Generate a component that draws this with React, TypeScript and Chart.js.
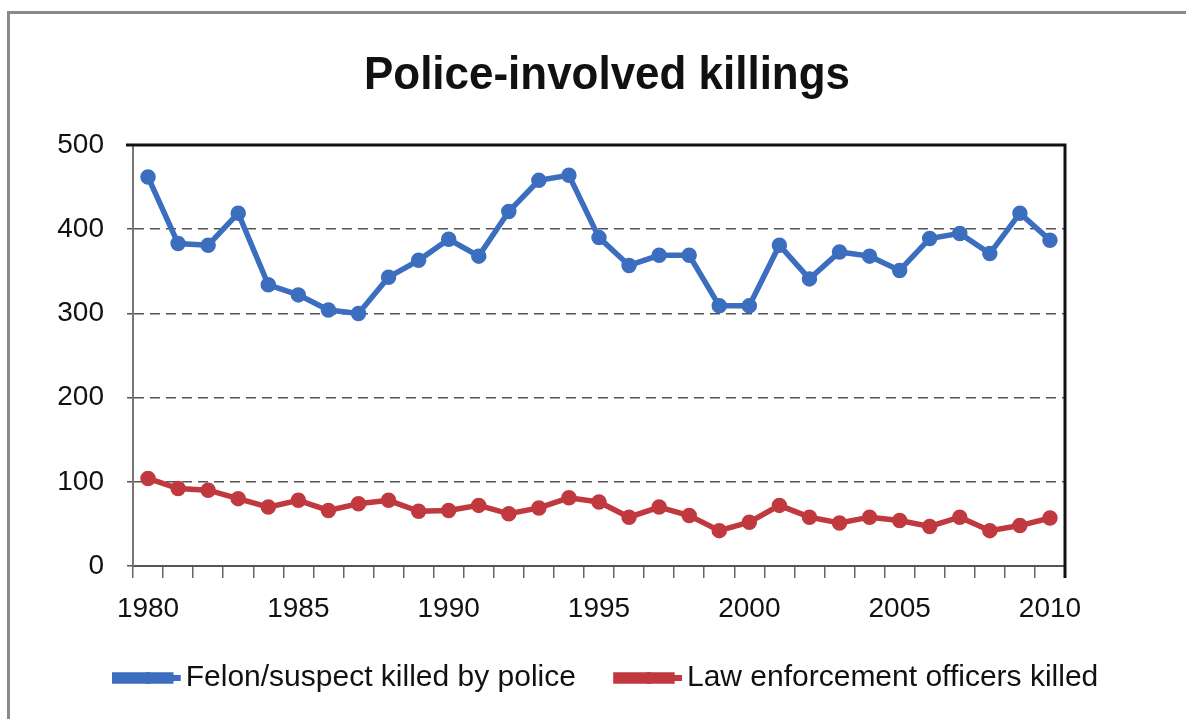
import React, { useEffect, useRef } from "react";
import { Chart, registerables } from "chart.js";

Chart.register(...registerables);

const years = [
  "1980", "1981", "1982", "1983", "1984", "1985", "1986", "1987", "1988", "1989",
  "1990", "1991", "1992", "1993", "1994", "1995", "1996", "1997", "1998", "1999",
  "2000", "2001", "2002", "2003", "2004", "2005", "2006", "2007", "2008", "2009", "2010",
];

const felonKilled = [
  462, 383, 381, 419, 334, 322, 304, 300, 343, 363,
  388, 368, 421, 458, 464, 390, 357, 369, 369, 309,
  309, 381, 341, 373, 368, 351, 389, 395, 371, 419, 387,
];

const officersKilled = [
  104, 92, 90, 80, 70, 78, 66, 74, 78, 65,
  66, 72, 62, 69, 81, 76, 58, 70, 60, 42,
  52, 72, 58, 51, 58, 54, 47, 58, 42, 48, 57,
];

const seriesNames = ["Felon/suspect killed by police", "Law enforcement officers killed"];
const seriesColors = ["#3C6EC0", "#C0393F"];
const chartTitle = "Police-involved killings";
const yMin = 0;
const yMax = 500;
const yStep = 100;

const FONT = '"Liberation Sans", Arial, sans-serif';

export default function App() {
  const ref = useRef<HTMLCanvasElement | null>(null);

  useEffect(() => {
    if (!ref.current) return;

    const decorations = {
      id: "decorations",
      afterDraw(chart: any) {
        const { ctx, chartArea } = chart;
        ctx.save();
        // plot top and right borders
        ctx.strokeStyle = "#111";
        ctx.lineWidth = 3;
        ctx.beginPath();
        ctx.moveTo(chartArea.left - 7, chartArea.top);
        ctx.lineTo(chartArea.right, chartArea.top);
        ctx.lineTo(chartArea.right, chartArea.bottom + 12);
        ctx.stroke();

        // title (condensed bold)
        ctx.font = `bold 46px ${FONT}`;
        const w = ctx.measureText(chartTitle).width;
        const sx = 486 / w;
        ctx.translate((chartArea.left + chartArea.right) / 2 + 8, 89);
        ctx.scale(sx, 1);
        ctx.fillStyle = "#111";
        ctx.textAlign = "center";
        ctx.textBaseline = "alphabetic";
        ctx.fillText(chartTitle, 0, 0);
        ctx.setTransform(1, 0, 0, 1, 0, 0);

        // legend line + marker symbols
        const legend = chart.legend;
        if (legend && legend.legendHitBoxes) {
          legend.legendHitBoxes.forEach((hb: any, i: number) => {
            const cy = hb.top + hb.height / 2;
            ctx.strokeStyle = seriesColors[i];
            ctx.lineWidth = 6;
            ctx.beginPath();
            ctx.moveTo(hb.left, cy);
            ctx.lineTo(hb.left + 66, cy);
            ctx.stroke();
            ctx.fillStyle = seriesColors[i];
            ctx.beginPath();
            ctx.arc(hb.left + 33, cy, 6, 0, Math.PI * 2);
            ctx.fill();
          });
        }
        ctx.restore();
      },
    };

    const chart = new Chart(ref.current, {
      type: "line",
      data: {
        labels: years,
        datasets: [
          {
            label: seriesNames[0],
            data: felonKilled,
            borderColor: seriesColors[0],
            backgroundColor: seriesColors[0],
            borderWidth: 5.5,
            pointRadius: 5,
            pointBackgroundColor: seriesColors[0],
            pointBorderColor: seriesColors[0],
            tension: 0,
          },
          {
            label: seriesNames[1],
            data: officersKilled,
            borderColor: seriesColors[1],
            backgroundColor: seriesColors[1],
            borderWidth: 5.5,
            pointRadius: 5,
            pointBackgroundColor: seriesColors[1],
            pointBorderColor: seriesColors[1],
            tension: 0,
          },
        ],
      },
      options: {
        animation: false,
        responsive: false,
        maintainAspectRatio: false,
        devicePixelRatio: 1,
        layout: { padding: { top: 145, left: 27, right: 0, bottom: 16 } },
        plugins: {
          title: { display: false },
          legend: {
            display: true,
            position: "bottom",
            fullSize: true,
            align: "center",
            labels: {
              boxWidth: 56,
              boxHeight: 6,
              padding: 40,
              color: "#111",
              font: { family: FONT, size: 30 },
            },
          },
          tooltip: { enabled: false },
        },
        scales: {
          x: {
            type: "category",
            offset: true,
            afterFit: (scale: any) => {
              scale.height = 57;
            },
            grid: {
              offset: true,
              drawOnChartArea: false,
              drawTicks: true,
              tickLength: 12,
              color: "#666",
              lineWidth: 1.5,
            },
            border: { display: true, color: "#555", width: 2 },
            ticks: {
              autoSkip: false,
              maxRotation: 0,
              minRotation: 0,
              padding: 17,
              color: "#111",
              font: { family: FONT, size: 28, lineHeight: 1 },
              callback: (_v: any, idx: number) => {
                const y = years[idx];
                return Number(y) % 5 === 0 ? y : "";
              },
            },
          },
          y: {
            min: yMin,
            max: yMax,
            afterFit: (scale: any) => {
              scale.width = 106;
            },
            grid: {
              drawTicks: true,
              tickLength: 6,
              lineWidth: 1.5,
              color: (c: any) =>
                c.tick && (c.tick.value === yMin || c.tick.value === yMax) ? "rgba(0,0,0,0)" : "#555",
              tickColor: "#555",
            },
            border: { display: true, color: "#777", width: 2, dash: [10, 6] },
            ticks: {
              stepSize: yStep,
              padding: 23,
              color: "#111",
              font: { family: FONT, size: 28 },
            },
          },
          yRight: {
            type: "linear",
            position: "right",
            display: true,
            min: yMin,
            max: yMax,
            afterFit: (scale: any) => {
              scale.width = 121;
            },
            grid: { display: false, drawTicks: false },
            border: { display: false },
            ticks: { display: false },
          },
        },
      },
      plugins: [decorations],
    });

    return () => chart.destroy();
  }, []);

  return (
    <div
      style={{
        position: "fixed",
        left: 0,
        top: 0,
        width: 1186,
        height: 719,
        background: "#fff",
        overflow: "hidden",
      }}
    >
      <div
        style={{
          position: "absolute",
          left: 7,
          top: 11,
          width: 1186,
          height: 3,
          background: "#8a8a8a",
        }}
      />
      <div
        style={{
          position: "absolute",
          left: 7,
          top: 11,
          width: 3,
          height: 719,
          background: "#8a8a8a",
        }}
      />
      <canvas
        ref={ref}
        width={1186}
        height={719}
        style={{ position: "absolute", left: 0, top: 0, width: 1186, height: 719 }}
      />
    </div>
  );
}
